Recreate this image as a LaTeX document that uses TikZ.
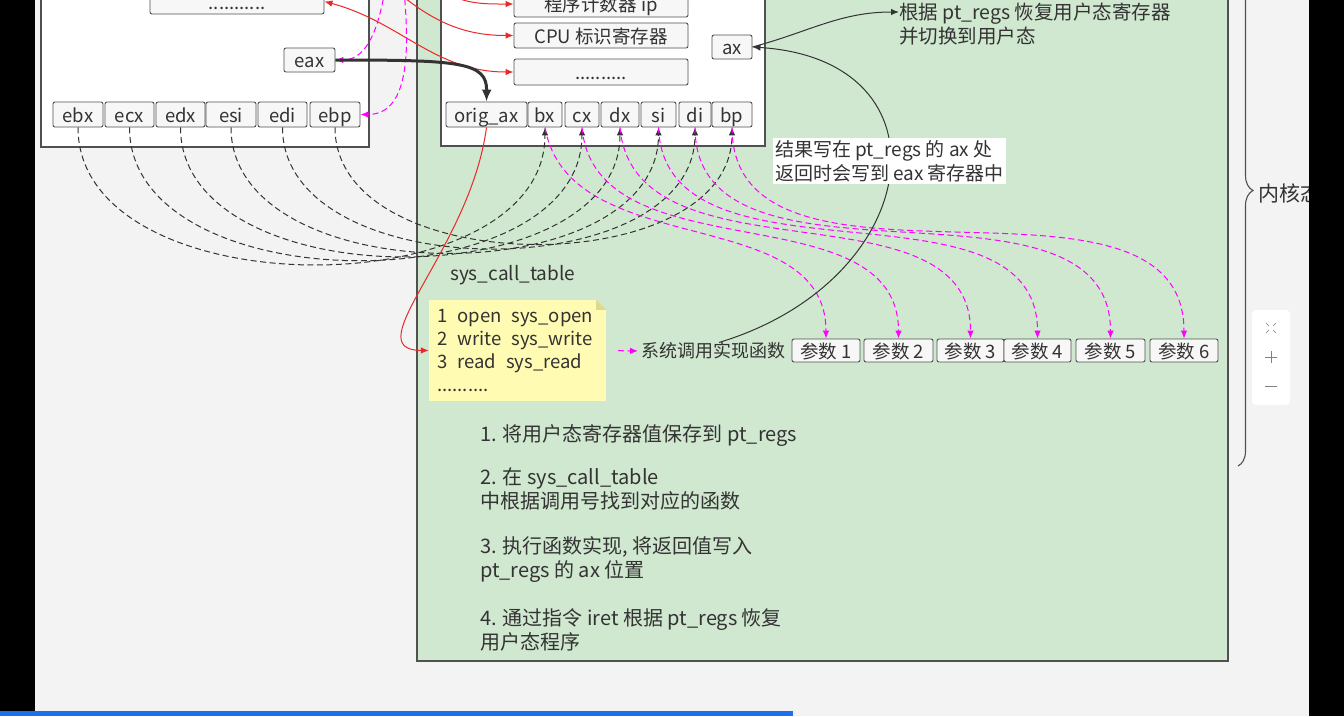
\documentclass[tikz,border=0pt]{standalone}
\usepackage{fontspec}
\setmainfont{Noto Sans CJK SC}
\usetikzlibrary{arrows.meta,decorations.pathreplacing}
\definecolor{fondo}{RGB}{243,243,243}
\definecolor{verde}{RGB}{208,231,208}
\definecolor{borde}{RGB}{80,80,80}
\definecolor{texto}{RGB}{51,51,51}
\definecolor{amarillo}{RGB}{255,251,178}
\definecolor{pliegue}{RGB}{222,217,140}
\definecolor{rojo}{RGB}{236,40,40}
\definecolor{rosa}{RGB}{255,0,255}
\definecolor{azul}{RGB}{28,112,236}
\begin{document}
\begin{tikzpicture}[x=1pt,y=1pt]
% Estilos para componentes
\tikzstyle{panel} = [rectangle, draw=borde, line width=1.1pt, inner sep=0pt]
\tikzstyle{reg} = [rectangle, draw=borde, line width=0.9pt, fill=gray!6, rounded corners=2pt, minimum height=25pt, inner sep=0pt, text=texto, text height=16pt, text depth=1pt, font=\fontsize{18.5}{20}\selectfont]
\tikzstyle{txt} = [text=texto, inner sep=0pt, align=left, font=\fontsize{19}{24}\selectfont]
\tikzstyle{paso} = [text=texto, inner sep=0pt, align=left, anchor=west, font=\fontsize{20}{24}\selectfont]
\tikzstyle{cable} = [line width=1pt, dash pattern=on 6pt off 3.5pt, -{Latex[length=8pt,width=6.5pt]}]
\tikzstyle{flecha} = [line width=1pt, -{Latex[length=8pt,width=6.5pt]}]

\useasboundingbox (0,0) rectangle (1344,-716);
\fill[fondo] (0,0) rectangle (1344,-716);

% Paneles
\node[panel, fill=white, minimum width=328pt, minimum height=167pt] (ubox) at (205,-63.5) {};
\node[panel, fill=verde, minimum width=811pt, minimum height=681pt] (kernelbox) at (822.5,-320.5) {};
\node[panel, fill=white, minimum width=324pt, minimum height=166pt] (ptbox) at (603,-63) {};

% Registros de usuario
\node[reg, minimum width=174pt] (udots) at (237,-1.5) {...........};
\node[reg, minimum width=51pt, minimum height=24pt] (eax) at (309.5,-60) {eax};
\node[reg, minimum width=50pt] (ebx) at (78,-114.5) {ebx};
\node[reg, minimum width=49pt] (ecx) at (129.5,-114.5) {ecx};
\node[reg, minimum width=49pt] (edx) at (180.5,-114.5) {edx};
\node[reg, minimum width=50pt] (esi) at (231,-114.5) {esi};
\node[reg, minimum width=49pt] (edi) at (282.5,-114.5) {edi};
\node[reg, minimum width=50pt] (ebp) at (335,-114.5) {ebp};

% pt_regs
\node[reg, minimum width=174pt, minimum height=26pt] (pc) at (601,-4) {程序计数器 ip};
\node[reg, minimum width=174pt] (cpu) at (601,-35.5) {CPU 标识寄存器};
\node[reg, minimum width=174pt, minimum height=26pt] (pdots) at (601,-72) {..........};
\node[reg, minimum width=40pt, minimum height=24pt] (ax) at (732,-47) {ax};
\node[reg, minimum width=81pt] (orig_ax) at (486.5,-114.5) {orig\_ax};
\node[reg, minimum width=34pt] (bx) at (545,-114.5) {bx};
\node[reg, minimum width=34pt] (cx) at (582,-114.5) {cx};
\node[reg, minimum width=38pt] (dx) at (620,-114.5) {dx};
\node[reg, minimum width=35pt] (si) at (658.5,-114.5) {si};
\node[reg, minimum width=32pt] (di) at (695,-114.5) {di};
\node[reg, minimum width=40pt] (bp) at (732,-114.5) {bp};

% sys_call_table
\node[txt, anchor=west] (sct) at (450,-275) {sys\_call\_table};
\node[fill=amarillo, minimum width=177pt, minimum height=101pt, inner sep=0pt] (note) at (517.5,-350.5) {};
\fill[verde] (note.north east) -- ++(-10,0) -- ++(10,-10) -- cycle;
\fill[pliegue] (note.north east) ++(-10,0) -- ++(0,-10) -- ++(10,0) -- cycle;
\node[txt, anchor=west, font=\fontsize{18.5}{23}\selectfont] (notetext) at (437,-351) {
    1\hspace{10pt}open\hspace{10pt}sys\_open\\
    2\hspace{10pt}write\hspace{10pt}sys\_write\\
    3\hspace{10pt}read\hspace{10pt}sys\_read\\
    ..........
};

% Funcion y parametros
\node[txt, anchor=west, font=\fontsize{18}{24}\selectfont] (func) at (641,-351) {系统调用实现函数};
\node[reg, minimum width=68pt, minimum height=23pt] (arg1) at (826,-350.5) {参数 1};
\node[reg, minimum width=69pt, minimum height=23pt] (arg2) at (898.5,-350.5) {参数 2};
\node[reg, minimum width=67pt, minimum height=23pt] (arg3) at (970.5,-350.5) {参数 3};
\node[reg, minimum width=67pt, minimum height=23pt] (arg4) at (1037.5,-350.5) {参数 4};
\node[reg, minimum width=69pt, minimum height=23pt] (arg5) at (1110.5,-350.5) {参数 5};
\node[reg, minimum width=68pt, minimum height=23pt] (arg6) at (1184,-350.5) {参数 6};

% Conexiones desde arriba
\coordinate (topA) at (440,10);
\coordinate (topB) at (395,10);
\coordinate (topC) at (385,10);
\coordinate (topD) at (404,10);
\draw[rojo, flecha] (topA) to[out=-30,in=180] (pc.west);
\draw[rojo, flecha] (topB) to[out=-40,in=180] (cpu.west);
\draw[rojo, line width=1pt, {Latex[length=8pt,width=6.5pt]}-{Latex[length=8pt,width=6.5pt]}] (udots.east) to[out=-15,in=180] (pdots.west);
\draw[cable, rosa] (topC) to[out=-100,in=0] (eax.east);
\draw[cable, rosa] (topD) to[out=-85,in=0] (ebp.east);
\draw[texto, line width=3pt, -{Latex[length=12pt,width=10pt]}] (eax.east) .. controls (460,-60) and (487,-62) .. (orig_ax.north);

% Registros de usuario -> pt_regs
\draw[cable, texto] (ebx.south) to[out=-90,in=-90] (bx.south);
\draw[cable, texto] (ecx.south) to[out=-90,in=-90] (cx.south);
\draw[cable, texto] (edx.south) to[out=-90,in=-90] (dx.south);
\draw[cable, texto] (esi.south) to[out=-90,in=-90] (si.south);
\draw[cable, texto] (edi.south) to[out=-90,in=-90] (di.south);
\draw[cable, texto] (ebp.south) to[out=-90,in=-90] (bp.south);

% pt_regs -> parametros
\draw[cable, rosa] (bx.south) to[out=-80,in=90] (arg1.north);
\draw[cable, rosa] (cx.south) to[out=-85,in=90] (arg2.north);
\draw[cable, rosa] (dx.south) to[out=-85,in=90] (arg3.north);
\draw[cable, rosa] (si.south) to[out=-88,in=90] (arg4.north);
\draw[cable, rosa] (di.south) to[out=-90,in=90] (arg5.north);
\draw[cable, rosa] (bp.south) to[out=-90,in=90] (arg6.north);

% Tabla -> funcion, retorno
\draw[rojo, flecha] (orig_ax.south) .. controls (470,-250) and (355,-350) .. (note.west);
\draw[cable, rosa, shorten <=12pt, shorten >=3pt] (note.east) -- (func.west);
\draw[texto, flecha] ([xshift=6pt]func.north) .. controls (925,-280) and (955,-60) .. (ax.east);
\node[txt, fill=white, inner sep=2pt] (result) at (889.5,-161) {结果写在 pt\_regs 的 ax 处\\返回时会写到 eax 寄存器中};
\node[txt, anchor=west, font=\fontsize{19.5}{24}\selectfont] (restore) at (899,-24) {根据 pt\_regs 恢复用户态寄存器\\并切换到用户态};
\draw[texto, flecha] (ax.east) to[out=15,in=180] ([yshift=12pt]restore.west);

% Pasos
\node[paso] (paso1) at (480,-436) {1. 将用户态寄存器值保存到 pt\_regs};
\node[paso] (paso2) at (480,-489) {2. 在 sys\_call\_table\\中根据调用号找到对应的函数};
\node[paso] (paso3) at (480,-559.5) {3. 执行函数实现, 将返回值写入\\pt\_regs 的 ax 位置};
\node[paso] (paso4) at (480,-629.5) {4. 通过指令 iret 根据 pt\_regs 恢复\\用户态程序};

% Llave del modo kernel
\draw[borde, line width=1.1pt, decorate, decoration={brace, amplitude=15pt}] (1238,85) -- (1238,-466);
\node[txt, anchor=west, font=\fontsize{21}{24}\selectfont] (kernel) at (1258,-193) {内核态};

% Controles de zoom
\node[fill=white, rounded corners=4pt, minimum width=38pt, minimum height=95pt] (zoomctl) at (1271,-357.5) {};
\draw[gray, line width=0.8pt] (1265,-357) -- (1277,-357) (1271,-351) -- (1271,-363);
\draw[gray, line width=0.8pt] (1265,-386) -- (1277,-386);
\draw[gray, line width=0.6pt] (1266,-323) -- (1269,-326) (1276,-323) -- (1273,-326) (1266,-333) -- (1269,-330) (1276,-333) -- (1273,-330);

% Marco de la captura
\fill[black] (0,0) rectangle (35,-716);
\fill[black] (1309,0) rectangle (1344,-716);
\fill[azul] (0,-711) rectangle (793,-716);
\end{tikzpicture}
\end{document}
